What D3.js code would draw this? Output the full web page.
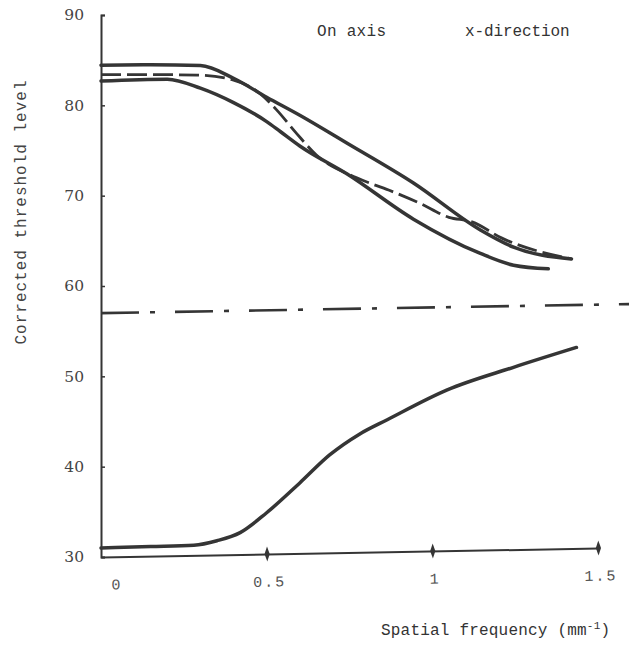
<!DOCTYPE html>
<html>
<head>
<meta charset="utf-8">
<script src="https://cdn.jsdelivr.net/npm/d3@7"></script>
<style>
  body { margin: 0; background: #fff; }
  svg { display: block; }
</style>
</head>
<body>
<div id="chart"></div>
<script>
let w = 629;
let h = 645;

let yTicks = [30, 40, 50, 60, 70, 80, 90];
let xTicks = [0, 0.5, 1, 1.5];
let xTickLabels = ["0", "0.5", "1", "1.5"];

let topFreq = [0, 0.15, 0.3, 0.4, 0.5, 0.6, 0.743, 0.943, 1.145, 1.245, 1.42];
let topLevel = [84.45, 84.5, 84.4, 83.0, 80.9, 78.9, 75.8, 71.4, 66.2, 64.3, 63.0];

let dashFreq = [0, 0.15, 0.29, 0.4, 0.48, 0.53, 0.59, 0.65, 0.77, 0.87, 0.96, 1.05, 1.12, 1.21, 1.42];
let dashLevel = [83.4, 83.4, 83.35, 82.8, 81.3, 79.5, 76.9, 74.5, 72.0, 70.6, 69.2, 67.6, 67.1, 65.3, 63.0];

let lowFreq = [0, 0.2, 0.3, 0.4, 0.5, 0.541, 0.6, 0.743, 0.943, 1.145, 1.245, 1.35];
let lowLevel = [82.7, 82.9, 81.9, 80.3, 78.2, 77.1, 75.5, 72.4, 67.4, 63.6, 62.3, 61.9];

let riseFreq = [0, 0.15, 0.28, 0.35, 0.42, 0.5, 0.6, 0.69, 0.78, 0.864, 1.045, 1.245, 1.435];
let riseLevel = [31.0, 31.15, 31.3, 31.8, 32.7, 34.9, 38.2, 41.3, 43.6, 45.2, 48.5, 51.0, 53.2];

let refFreq = [0, 1.6];
let refLevel = [57.0, 58.0];

let ink = "#353535";
let mono = "'Liberation Mono', 'DejaVu Sans Mono', monospace";

let x = d3.scaleLinear().domain([0, 1.5]).range([101, 598]);
let y = d3.scaleLinear().domain([30, 90]).range([557, 15]);

let viz = d3.select("#chart")
    .append("svg")
    .attr("width", w)
    .attr("height", h)
    .attr("viewBox", "0 0 " + w + " " + h);

function zip(fs, vs) {
    return fs.map((f, i) => [f, vs[i]]);
}

let line = d3.line()
    .x(d => x(d[0]))
    .y(d => y(d[1]))
    .curve(d3.curveMonotoneX);

// y axis
let yAxis = viz.append("g")
    .attr("transform", "translate(" + x(0) + ",0)")
    .call(d3.axisLeft(y).tickValues(yTicks).tickSize(-4).tickPadding(17));
yAxis.select(".domain").attr("stroke", ink).attr("stroke-width", 2);
yAxis.selectAll(".tick line").attr("stroke", ink).attr("stroke-width", 1.5);
yAxis.selectAll("text")
    .attr("font-family", "'DejaVu Serif', serif")
    .attr("font-size", 15.5)
    .attr("fill", "#444");

// x axis, the scan is slightly tilted
let tilt = Math.atan2(-9, x(1.5) - x(0)) * 180 / Math.PI;
let xAxis = viz.append("g")
    .attr("transform", "translate(0," + y(30) + ") rotate(" + tilt + "," + x(0) + ",0)")
    .call(d3.axisBottom(x).tickValues(xTicks).tickSize(0).tickPadding(22)
        .tickFormat((d, i) => xTickLabels[i]));
xAxis.select(".domain").attr("stroke", ink).attr("stroke-width", 2);
xAxis.selectAll(".tick")
    .filter(d => d > 0)
    .append("path")
    .attr("d", "M0,-7.5 L2.6,0 L0,7.5 L-2.6,0Z")
    .attr("fill", ink);
xAxis.selectAll("text")
    .attr("font-family", mono)
    .attr("font-size", 15)
    .attr("letter-spacing", 2)
    .attr("fill", "#555")
    .attr("dx", d => d === 0 ? 15 : 2);

// curves
viz.append("path")
    .attr("d", line(zip(refFreq, refLevel)))
    .attr("fill", "none")
    .attr("stroke", ink)
    .attr("stroke-width", 2.6)
    .attr("stroke-dasharray", "38 11 5 20");

viz.append("path")
    .attr("d", line(zip(topFreq, topLevel)))
    .attr("fill", "none")
    .attr("stroke", ink)
    .attr("stroke-width", 3.5)
    .attr("stroke-linecap", "round");

viz.append("path")
    .attr("d", line(zip(dashFreq, dashLevel)))
    .attr("fill", "none")
    .attr("stroke", ink)
    .attr("stroke-width", 2.8)
    .attr("stroke-dasharray", "20 6");

viz.append("path")
    .attr("d", line(zip(lowFreq, lowLevel)))
    .attr("fill", "none")
    .attr("stroke", ink)
    .attr("stroke-width", 3.5)
    .attr("stroke-linecap", "round");

viz.append("path")
    .attr("d", line(zip(riseFreq, riseLevel)))
    .attr("fill", "none")
    .attr("stroke", ink)
    .attr("stroke-width", 3.5)
    .attr("stroke-linecap", "round");

// labels
viz.append("text")
    .attr("x", 317)
    .attr("y", 36)
    .attr("font-family", mono)
    .attr("font-size", 16)
    .attr("letter-spacing", 0.3)
    .attr("fill", "#333")
    .text("On axis");

viz.append("text")
    .attr("x", 465)
    .attr("y", 36)
    .attr("font-family", mono)
    .attr("font-size", 16)
    .attr("letter-spacing", -0.1)
    .attr("fill", "#333")
    .text("x-direction");

viz.append("text")
    .attr("transform", "translate(26,212) rotate(-90)")
    .attr("text-anchor", "middle")
    .attr("font-family", mono)
    .attr("font-size", 16)
    .attr("letter-spacing", 1.0)
    .attr("fill", "#444")
    .text("Corrected threshold level");

let xLabel = viz.append("text")
    .attr("x", 381)
    .attr("y", 635)
    .attr("font-family", mono)
    .attr("font-size", 16)
    .attr("letter-spacing", 0.2)
    .attr("fill", "#333");
xLabel.append("tspan").text("Spatial frequency (mm");
xLabel.append("tspan").attr("dy", -6).attr("font-size", 11).text("-1");
xLabel.append("tspan").attr("dy", 6).text(")");
</script>
</body>
</html>
